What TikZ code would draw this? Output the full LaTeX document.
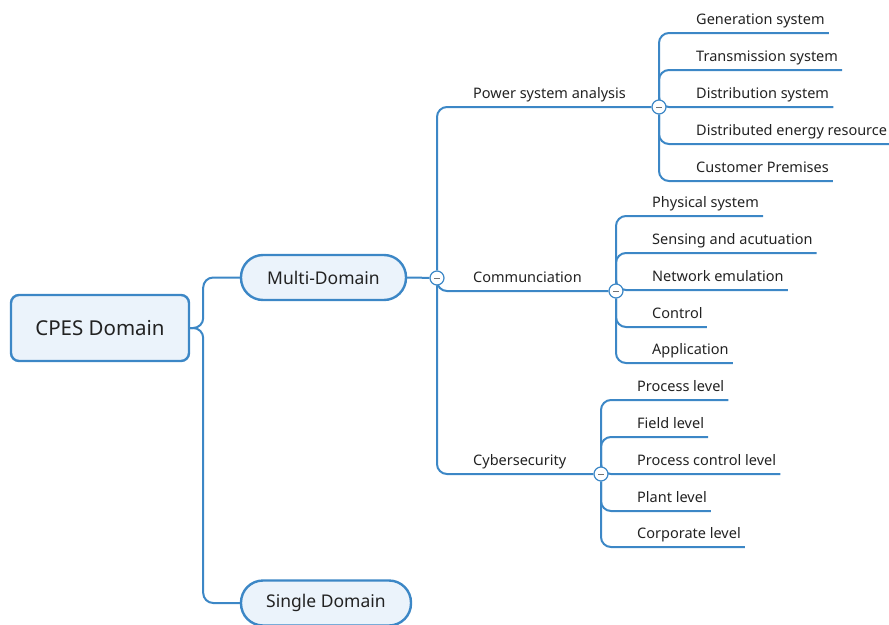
\documentclass[tikz,border=0pt]{standalone}
\usepackage{fontspec}
\setmainfont{Noto Sans}
\usetikzlibrary{backgrounds}
\definecolor{mapblue}{HTML}{3C87C6}
\definecolor{mapfill}{HTML}{EBF3FB}
\definecolor{maptext}{HTML}{222222}
\tikzset{
  conn/.style={draw=mapblue, line width=2pt, rounded corners=10pt},
  rootbox/.style={draw=mapblue, fill=mapfill, line width=2.4pt, rounded corners=8pt,
    minimum width=178pt, minimum height=66pt, inner sep=0pt, text=maptext,
    font=\fontsize{20.5}{24}\selectfont},
  pill/.style={draw=mapblue, fill=mapfill, line width=2.4pt, rounded corners=22pt,
    minimum height=45pt, inner sep=0pt, text=maptext,
    font=\fontsize{17.5}{21}\selectfont},
  leaf/.style={anchor=south west, inner xsep=4pt, inner ysep=8.3pt, text depth=0pt,
    text=maptext, font=\fontsize{14.5}{17}\selectfont},
  toggle/.style={circle, draw=mapblue, fill=white, line width=1.2pt, minimum size=14pt,
    inner sep=0pt,
    path picture={\draw[line width=1pt, black!55]
      ([xshift=-3pt]path picture bounding box.center) --
      ([xshift=3pt]path picture bounding box.center);}},
}
\begin{document}
\begin{tikzpicture}[x=1pt, y=-1pt]
\useasboundingbox (0,0) rectangle (889,624);

% main nodes
\node[rootbox] (root) at (100,328) {CPES Domain};
\node[pill, minimum width=165pt] (multi) at (323.5,277.5) {Multi-Domain};
\node[pill, minimum width=170pt] (single) at (326,603) {Single Domain};

% collapse toggles
\node[toggle] (t0) at (437,278) {};
\node[toggle] (t1) at (659,107) {};
\node[toggle] (t2) at (616,291) {};
\node[toggle] (t3) at (601,474) {};

% first level topics
\node[leaf] (psa) at (469,107) {Power system analysis};
\node[leaf] (com) at (469,291) {Communciation};
\node[leaf] (cyb) at (469,474) {Cybersecurity};

% power system analysis subtopics
\node[leaf] (gen) at (692,33) {Generation system};
\node[leaf] (tra) at (692,70) {Transmission system};
\node[leaf] (dis) at (692,107) {Distribution system};
\node[leaf] (der) at (692,144) {Distributed energy resource};
\node[leaf] (cus) at (692,181) {Customer Premises};

% communication subtopics
\node[leaf] (phy) at (648,216) {Physical system};
\node[leaf] (sen) at (648,253) {Sensing and acutuation};
\node[leaf] (net) at (648,290) {Network emulation};
\node[leaf] (ctl) at (648,327) {Control};
\node[leaf] (app) at (648,363) {Application};

% cybersecurity subtopics
\node[leaf] (pro) at (633,400) {Process level};
\node[leaf] (fie) at (633,437) {Field level};
\node[leaf] (pcl) at (633,474) {Process control level};
\node[leaf] (pla) at (633,511) {Plant level};
\node[leaf] (cor) at (633,547) {Corporate level};

\begin{scope}[on background layer]
  % root to domains
  \draw[conn] (root.east) -- ++(13,0) |- (multi.west);
  \draw[conn] (root.east) -- ++(13,0) |- (single.west);
  \draw[conn] (multi.east) -- (t0);
  % first level
  \draw[conn] (t0) |- (psa.south west) -- (t1);
  \draw[conn] (t0) |- (com.south west) -- (t2);
  \draw[conn] (t0) |- (cyb.south west) -- (t3);
  % second level
  \foreach \n in {gen,tra,dis,der,cus}
    \draw[conn] (t1) |- (\n.south west) -- (\n.south east);
  \foreach \n in {phy,sen,net,ctl,app}
    \draw[conn] (t2) |- (\n.south west) -- (\n.south east);
  \foreach \n in {pro,fie,pcl,pla,cor}
    \draw[conn] (t3) |- (\n.south west) -- (\n.south east);
\end{scope}
\end{tikzpicture}
\end{document}
